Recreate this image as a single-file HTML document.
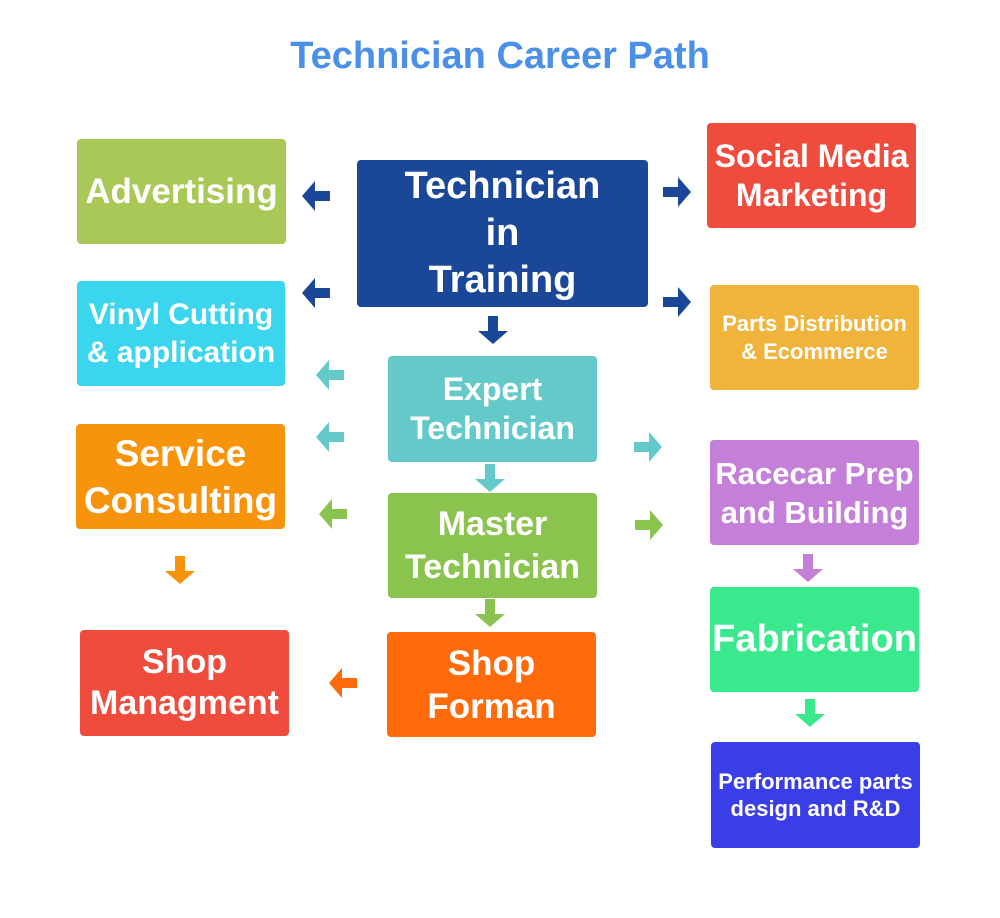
<!DOCTYPE html>
<html><head><meta charset="utf-8"><style>
body{margin:0;background:#fff;width:1000px;height:918px;position:relative;overflow:hidden;font-family:"Liberation Sans","DejaVu Sans",sans-serif;}
.b{position:absolute;border-radius:4px;color:#fff;font-weight:bold;display:flex;align-items:center;justify-content:center;text-align:center;white-space:nowrap;}
.a{position:absolute;width:28px;height:30px;}
h1{position:absolute;top:35px;left:0;width:1000px;text-align:center;margin:0;font-size:38px;color:#4a90e8;font-weight:bold;}
</style></head><body>
<h1>Technician Career Path</h1>
<div class="b" style="left:77px;top:139px;width:209px;height:105px;background:#a8c957;font-size:35px">Advertising</div>
<div class="b" style="left:77px;top:281px;width:208px;height:105px;background:#3bd5ee;font-size:30px;line-height:38px">Vinyl Cutting<br>&amp; application</div>
<div class="b" style="left:76px;top:424px;width:209px;height:105px;background:#f7940b;font-size:37px;line-height:47px">Service<br>Consulting</div>
<div class="b" style="left:80px;top:630px;width:209px;height:106px;background:#ef4c3d;font-size:34px;line-height:41px">Shop<br>Managment</div>
<div class="b" style="left:357px;top:160px;width:291px;height:147px;background:#1a4797;font-size:38px;line-height:47px">Technician<br>in<br>Training</div>
<div class="b" style="left:388px;top:356px;width:209px;height:106px;background:#64c9c9;font-size:32px;line-height:39px">Expert<br>Technician</div>
<div class="b" style="left:388px;top:493px;width:209px;height:105px;background:#8bc34f;font-size:34px;line-height:43px">Master<br>Technician</div>
<div class="b" style="left:387px;top:632px;width:209px;height:105px;background:#ff6a0a;font-size:35px;line-height:43px">Shop<br>Forman</div>
<div class="b" style="left:707px;top:123px;width:209px;height:105px;background:#ef4c3d;font-size:32px;line-height:39px">Social Media<br>Marketing</div>
<div class="b" style="left:710px;top:285px;width:209px;height:105px;background:#f0b43c;font-size:22px;line-height:28px">Parts Distribution<br>&amp; Ecommerce</div>
<div class="b" style="left:710px;top:440px;width:209px;height:105px;background:#c47fd8;font-size:31px;line-height:39px">Racecar Prep<br>and Building</div>
<div class="b" style="left:710px;top:587px;width:209px;height:105px;background:#3ae98e;font-size:38px">Fabrication</div>
<div class="b" style="left:711px;top:742px;width:209px;height:106px;background:#3a3ee6;font-size:22px;line-height:27px">Performance parts<br>design and R&amp;D</div>

<svg width="0" height="0" style="position:absolute"><defs><path id="L" d="M0,15 L13,0 L13,10 L28,10 L28,20 L13,20 L13,30 Z"/></defs></svg>
<svg class="a" style="left:302px;top:181px"><use href="#L" fill="#1a4797"/></svg>
<svg class="a" style="left:302px;top:278px"><use href="#L" fill="#1a4797"/></svg>
<svg class="a" style="left:316px;top:360px"><use href="#L" fill="#64c9c9"/></svg>
<svg class="a" style="left:316px;top:422px"><use href="#L" fill="#64c9c9"/></svg>
<svg class="a" style="left:319px;top:499px"><use href="#L" fill="#8bc34f"/></svg>
<svg class="a" style="left:329px;top:668px"><use href="#L" fill="#ff6a0a"/></svg>
<svg class="a" style="left:663px;top:177px;transform:rotate(180deg)"><use href="#L" fill="#1a4797"/></svg>
<svg class="a" style="left:663px;top:287px;transform:rotate(180deg)"><use href="#L" fill="#1a4797"/></svg>
<svg class="a" style="left:634px;top:432px;transform:rotate(180deg)"><use href="#L" fill="#64c9c9"/></svg>
<svg class="a" style="left:635px;top:510px;transform:rotate(180deg)"><use href="#L" fill="#8bc34f"/></svg>
<svg class="a" style="left:479px;top:315px;transform:rotate(-90deg)"><use href="#L" fill="#1a4797"/></svg>
<svg class="a" style="left:476px;top:463px;transform:rotate(-90deg)"><use href="#L" fill="#64c9c9"/></svg>
<svg class="a" style="left:476px;top:598px;transform:rotate(-90deg)"><use href="#L" fill="#8bc34f"/></svg>
<svg class="a" style="left:166px;top:555px;transform:rotate(-90deg)"><use href="#L" fill="#f7940b"/></svg>
<svg class="a" style="left:794px;top:553px;transform:rotate(-90deg)"><use href="#L" fill="#c47fd8"/></svg>
<svg class="a" style="left:796px;top:698px;transform:rotate(-90deg)"><use href="#L" fill="#3ae98e"/></svg>
</body></html>
